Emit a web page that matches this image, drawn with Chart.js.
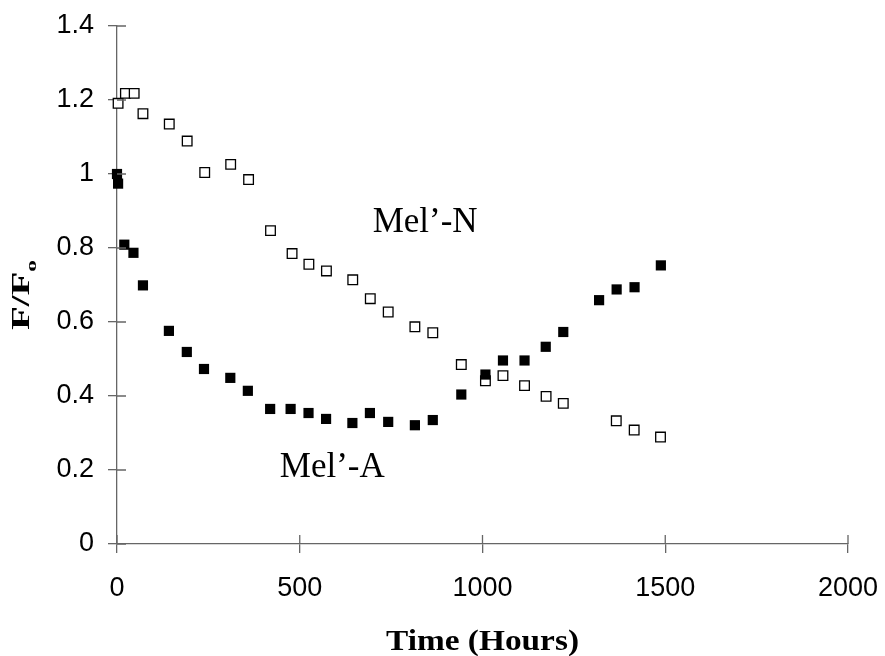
<!DOCTYPE html>
<html>
<head>
<meta charset="utf-8">
<script src="https://cdn.jsdelivr.net/npm/chart.js@4.4.1/dist/chart.umd.min.js"></script>
<style>
  body{margin:0;background:#fff}
  #wrap{width:885px;height:656px;position:relative}
</style>
</head>
<body>
<div id="wrap"><canvas id="grafMel"></canvas></div>
<script>
// Mel'-N (open squares)
let horasN = [3,23,47,71,143,192,240,311,360,420,479,525,573,645,693,742,815,864,942,1008,1056,1115,1174,1221,1366,1415,1487];
let valN   = [1.191,1.218,1.218,1.163,1.135,1.089,1.004,1.026,0.985,0.847,0.785,0.756,0.738,0.714,0.663,0.627,0.587,0.571,0.485,0.441,0.455,0.428,0.399,0.380,0.333,0.308,0.289];
// Mel'-A (filled squares)
let horasA = [0,3,20,45,71,142,191,238,310,358,419,475,524,572,644,692,742,815,864,942,1008,1056,1115,1173,1221,1319,1367,1416,1488];
let valA   = [1.0,0.974,0.809,0.787,0.699,0.576,0.519,0.473,0.449,0.414,0.365,0.365,0.354,0.338,0.327,0.354,0.330,0.321,0.335,0.404,0.458,0.496,0.496,0.533,0.573,0.659,0.688,0.694,0.753];
let xTicks = [0,500,1000,1500,2000];
let yTicks = [0,0.2,0.4,0.6,0.8,1,1.2,1.4];

const corEixo = '#666';

// ticks que cruzam o eixo (parte interna) + textos
const extras = {
  id:'extras',
  afterDatasetsDraw(chart){
    let ctx = chart.ctx, x = chart.scales.x, y = chart.scales.y;
    ctx.save();
    ctx.strokeStyle = corEixo; ctx.lineWidth = 1.3;
    ctx.beginPath();
    xTicks.forEach(v=>{let px=x.getPixelForValue(v); ctx.moveTo(px,y.bottom); ctx.lineTo(px,y.bottom-9);});
    yTicks.forEach(v=>{let py=y.getPixelForValue(v); ctx.moveTo(x.left,py); ctx.lineTo(x.left+9,py);});
    ctx.stroke();

    ctx.fillStyle = '#000';
    ctx.textAlign = 'center'; ctx.textBaseline = 'alphabetic';
    ctx.font = '35px "Liberation Serif"';
    ctx.fillText('Mel\u2019-N', x.getPixelForValue(843), y.getPixelForValue(0.843));
    ctx.fillText('Mel\u2019-A', x.getPixelForValue(589), y.getPixelForValue(0.181));

    // titulo eixo x
    ctx.font = 'bold 30px "Liberation Serif"';
    let w = ctx.measureText('Time (Hours)').width;
    ctx.save();
    ctx.translate((x.left+x.right)/2, 650);
    ctx.scale(193/w,1);
    ctx.fillText('Time (Hours)',0,0);
    ctx.restore();

    // titulo eixo y: F/Fo com subscrito
    ctx.save();
    ctx.translate(28.5,295);
    ctx.rotate(-Math.PI/2);
    ctx.textAlign = 'left';
    ctx.font = 'bold 25px "Liberation Serif"';
    let wF = ctx.measureText('F/F').width;
    ctx.font = 'bold 15px "Liberation Serif"';
    let wo = ctx.measureText('o').width;
    let tot = wF+wo;
    ctx.scale(70/tot,1);
    ctx.font = 'bold 25px "Liberation Serif"';
    ctx.fillText('F/F',-tot/2,0);
    ctx.font = 'bold 15px "Liberation Serif"';
    ctx.fillText('o',-tot/2+wF,7);
    ctx.restore();
    ctx.restore();
  }
};

new Chart(document.getElementById('grafMel').getContext('2d'),{
  type:'scatter',
  data:{
    datasets:[
      {label:"Mel'-A",data:horasA.map((h,i)=>({x:h,y:valA[i]})),pointStyle:'rect',pointRadius:7.2,
       backgroundColor:'#000',borderColor:'#000',borderWidth:0,clip:false},
      {label:"Mel'-N",data:horasN.map((h,i)=>({x:h,y:valN[i]})),pointStyle:'rect',pointRadius:6.8,
       backgroundColor:'#fff',borderColor:'#000',borderWidth:1.3,clip:false}
    ]
  },
  options:{
    responsive:true,maintainAspectRatio:false,animation:false,
    layout:{padding:{left:0,right:37,top:26,bottom:0}},
    plugins:{legend:{display:false},tooltip:{enabled:false}},
    scales:{
      x:{type:'linear',min:0,max:2000,
        afterBuildTicks:s=>{s.ticks=xTicks.map(v=>({value:v}));},
        afterFit:s=>{s.height=112;s.paddingLeft=0;s.paddingRight=0;},
        grid:{drawOnChartArea:false,tickLength:9,color:corEixo,lineWidth:1.3},
        border:{color:corEixo,width:1.3},
        ticks:{font:{family:'Liberation Sans',size:27},color:'#000',padding:19,maxRotation:0,
          callback:v=>String(v)}
      },
      y:{min:0,max:1.4,
        afterBuildTicks:s=>{s.ticks=yTicks.map(v=>({value:v}));},
        afterFit:s=>{s.width=117;s.paddingTop=0;s.paddingBottom=0;},
        grid:{drawOnChartArea:false,tickLength:9,color:corEixo,lineWidth:1.3},
        border:{color:corEixo,width:1.3},
        ticks:{font:{family:'Liberation Sans',size:27},color:'#000',padding:14,
          callback:v=>String(+Number(v).toFixed(1))}
      }
    }
  },
  plugins:[extras]
});
</script>
</body>
</html>
